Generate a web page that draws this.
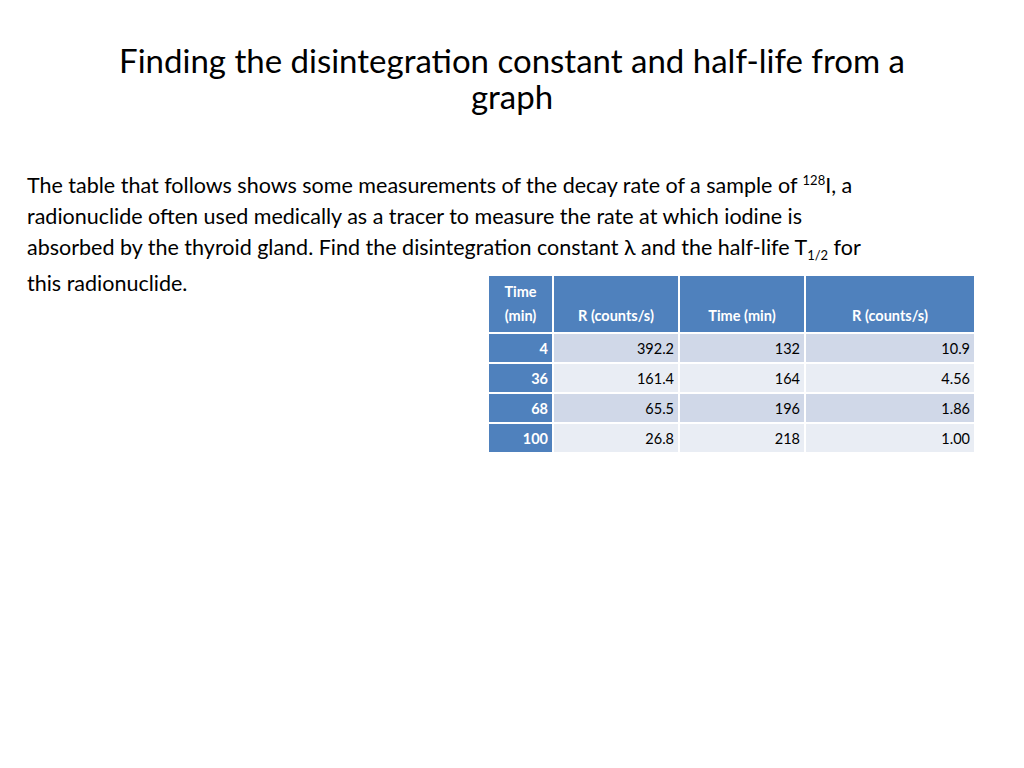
<!DOCTYPE html>
<html><head><meta charset="utf-8">
<script src="https://cdn.jsdelivr.net/npm/chart.js@4/dist/chart.umd.min.js"></script>
<style>
body{margin:0;width:1024px;height:768px;background:#fff;font-family:Lato,"Open Sans",sans-serif;position:relative;overflow:hidden;color:#000}
#title{position:absolute;left:0;width:1024px;top:42px;text-align:center;font-size:33px;line-height:36px}
#body{position:absolute;left:27px;top:170px;width:980px;font-size:21.5px;line-height:31px;white-space:nowrap}
.l{position:absolute;left:0}
sup,sub{font-size:13px;line-height:0}
table{position:absolute;left:487px;top:274px;border-collapse:collapse;font-size:14.5px;table-layout:fixed}
td,th{border:2px solid #fff;padding:0 4px;}
th{background:#4F81BD;color:#fff;font-weight:bold;height:52px;vertical-align:bottom;padding-bottom:4px;text-align:center;line-height:24px}
td{height:28px;text-align:right}
tr.odd td{background:#D0D8E8}
tr.even td{background:#E9EDF4}
tr td.c0{background:#4F81BD;color:#fff;font-weight:bold}
</style></head><body>
<div id="title">Finding the disintegration constant and half-life from a<br>graph</div>
<div id="body">
<div class="l" style="top:0">The table that follows shows some measurements of the decay rate of a sample of <sup>128</sup>I, a</div>
<div class="l" style="top:31px">radionuclide often used medically as a tracer to measure the rate at which iodine is</div>
<div class="l" style="top:62px">absorbed by the thyroid gland. Find the disintegration constant λ and the half-life T<sub>1/2</sub> for</div>
<div class="l" style="top:98px">this radionuclide.</div>
</div>
<table id="t"></table>
<script>
const headers=["Time<br>(min)","R (counts/s)","Time (min)","R (counts/s)"];
const time1=["4","36","68","100"];
const rate1=["392.2","161.4","65.5","26.8"];
const time2=["132","164","196","218"];
const rate2=["10.9","4.56","1.86","1.00"];
const widths=[67,128,128,172];
const t=document.getElementById('t');
let h='<tr>'+headers.map((x,i)=>`<th style="width:${widths[i]-12}px">${x}</th>`).join('')+'</tr>';
for(let i=0;i<time1.length;i++){
 h+=`<tr class="${i%2?'even':'odd'}"><td class="c0">${time1[i]}</td><td>${rate1[i]}</td><td>${time2[i]}</td><td>${rate2[i]}</td></tr>`;
}
t.innerHTML=h;
</script>
</body></html>
